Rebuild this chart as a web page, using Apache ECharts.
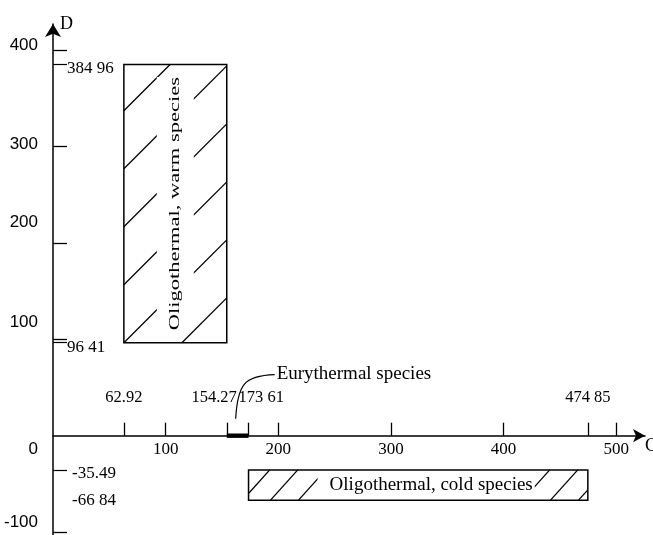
<!DOCTYPE html>
<html><head><meta charset="utf-8">
<script src="https://cdn.jsdelivr.net/npm/echarts@6/dist/echarts.min.js"></script>
<style>html,body{margin:0;padding:0;background:#fff}#c{width:653px;height:535px}</style>
</head><body><div id="c"></div>
<script>
// ---------------- data ----------------
const xTickValues = [62.92, 100, 154.27, 173.61, 200, 300, 400, 474.85, 500];
const xLabelValues = [100, 200, 300, 400, 500];
const xMarkValues = [62.92, 154.27, 173.61, 474.85];
const xMarkTexts = ['62.92', '154.27', '173 61', '474 85'];
const yLabelValues = [-100, 0, 100, 200, 300, 400];
const yTickValues = [-100, 100, 200, 300, 400];
const yMarkValues = [-66.84, -35.49, 96.41, 384.96];
const yMarkTexts = ['-66 84', '-35.49', '96 41', '384 96'];
const yMarkTickValues = [-35.49, 96.41, 384.96];
const zoneNames = ['Oligothermal, warm species', 'Oligothermal, cold species'];
const zoneX0 = [62.92, 173.61];
const zoneX1 = [154.27, 474.85];
const zoneY0 = [96.41, -66.84];
const zoneY1 = [384.96, -35.49];
const euryName = 'Eurythermal species';
const euryRange = [154.27, 173.61];
const xAxisName = 'C';
const yAxisName = 'D';
const xMin = 0, xMax = 525.6, yMin = -103, yMax = 427;

// ---------------- styles ----------------
const SERIF = '"Liberation Serif","Times New Roman",serif';
const SANS = '"Liberation Sans",Arial,sans-serif';
const GRID = {left: 53, right: 8, top: 24, bottom: 0};
const CHART_H = 535;
const yLabelShift = {'400': -5, '300': -2, '200': -21, '100': -17, '0': 14, '-100': -10};
const yMarkShift = {'-66.84': [0, 5], '-35.49': [4, 5], '96.41': [5, 0], '384.96': [4, 0]};
const xMarkStyle = [{align: 'center', dx: 0}, {align: 'right', dx: 10}, {align: 'left', dx: -10}, {align: 'center', dx: 0}];
const zoneStyle = [
  {angle: 45, spacing: 58, phase: 0, rotation: Math.PI / 2, scaleX: 1.5, fontSize: 15, dx: 0, dy: 0, padding: [11, 0, 11, 0]},
  {angle: 48, spacing: 28, phase: -6, rotation: 0, scaleX: 1, fontSize: 19, dx: 8, dy: 0, padding: [8, 2, 8, 12]}
];

function keyOf(v) { return 'k' + String(v).replace('-', 'm').replace('.', 'd'); }
function shiftPad(d) { return d > 0 ? [2 * d, 0, 0, 0] : [0, 0, -2 * d, 0]; }

const yLabelRich = {};
yLabelValues.forEach(v => {
  yLabelRich[keyOf(v)] = {padding: shiftPad(yLabelShift[String(v)] || 0), fontFamily: SANS, fontSize: 17, color: '#000'};
});
const yMarkRich = {};
yMarkValues.forEach(v => {
  const s = yMarkShift[String(v)] || [0, 0];
  const p = shiftPad(s[0]);
  p[3] = s[1];
  yMarkRich[keyOf(v)] = {padding: p, fontFamily: SERIF, fontSize: 17, color: '#000'};
});

// pixel distance of value 0 above the grid bottom (x axis sits on y = 0)
const gridH = CHART_H - GRID.top - GRID.bottom;
const zeroOffset = (0 - yMin) / (yMax - yMin) * gridH;

function renderZone(params, api) {
  const i = params.dataIndex;
  const st = zoneStyle[i];
  const p0 = api.coord([api.value(0), api.value(1)]);
  const p1 = api.coord([api.value(2), api.value(3)]);
  const x = Math.min(p0[0], p1[0]), y = Math.min(p0[1], p1[1]);
  const w = Math.abs(p1[0] - p0[0]), h = Math.abs(p1[1] - p0[1]);
  const children = [{type: 'rect', shape: {x: x, y: y, width: w, height: h},
    style: {fill: '#fff', stroke: null}}];
  const t = Math.tan(st.angle * Math.PI / 180);
  const run = h / t;
  const yb = y + h;
  const kMin = Math.floor(-run / st.spacing) - 1, kMax = Math.ceil(w / st.spacing) + 1;
  for (let k = kMin; k <= kMax; k++) {
    const c = x + st.phase + k * st.spacing;
    const s0 = Math.max(0, (x - c) / run), s1 = Math.min(1, (x + w - c) / run);
    if (s1 - s0 > 0.02) {
      children.push({type: 'line', shape: {
        x1: c + s0 * run, y1: yb - s0 * h, x2: c + s1 * run, y2: yb - s1 * h},
        style: {stroke: '#000', lineWidth: 1.3}});
    }
  }
  children.push({type: 'text', x: x + w / 2 + st.dx, y: y + h / 2 + st.dy,
    rotation: st.rotation, scaleX: st.scaleX,
    style: {text: zoneNames[i], fontFamily: SERIF, fontSize: st.fontSize, fill: '#000',
      align: 'center', verticalAlign: 'middle', backgroundColor: '#fff', padding: st.padding}});
  children.push({type: 'rect', shape: {x: x, y: y, width: w, height: h},
    style: {fill: null, stroke: '#000', lineWidth: 1.5}});
  return {type: 'group', children: children};
}

function renderEury(params, api) {
  const a = api.coord([api.value(0), 0]);
  const b = api.coord([api.value(1), 0]);
  const mx = (a[0] + b[0]) / 2, y0 = a[1];
  return {type: 'group', children: [
    {type: 'rect', shape: {x: a[0], y: y0 - 2.2, width: b[0] - a[0], height: 4.4}, style: {fill: '#000'}},
    {type: 'bezierCurve', shape: {x1: mx - 2, y1: y0 - 17, cpx1: mx, cpy1: y0 - 51, cpx2: mx + 6, cpy2: y0 - 60, x2: mx + 37, y2: y0 - 61},
      style: {stroke: '#000', lineWidth: 1.2, fill: null}},
    {type: 'text', x: mx + 39, y: y0 - 62,
      style: {text: euryName, fontFamily: SERIF, fontSize: 19, fill: '#000', align: 'left', verticalAlign: 'middle'}}
  ]};
}

function renderXMark(params, api) {
  const i = params.dataIndex;
  const p = api.coord([api.value(0), 0]);
  const st = xMarkStyle[i];
  return {type: 'text', x: p[0] + st.dx, y: p[1] - 38,
    style: {text: xMarkTexts[i], fontFamily: SERIF, fontSize: 16.5, fill: '#000', align: st.align, verticalAlign: 'middle'}};
}

const chart = echarts.init(document.getElementById('c'), null, {renderer: 'canvas'});
chart.setOption({
  backgroundColor: '#fff',
  animation: false,
  grid: Object.assign({containLabel: false, outerBoundsMode: 'none'}, GRID),
  xAxis: [{
    type: 'value', min: xMin, max: xMax, position: 'bottom', offset: -zeroOffset,
    name: xAxisName, nameLocation: 'end', nameGap: 0,
    nameTextStyle: {fontFamily: SERIF, fontSize: 18, color: '#000', align: 'left', verticalAlign: 'top', padding: [2, 0, 0, 0]},
    axisLine: {show: true, onZero: false, symbol: ['none', 'arrow'], symbolSize: [10, 12], lineStyle: {color: '#000', width: 1.5}},
    axisTick: {show: true, inside: true, length: 13, customValues: xTickValues, lineStyle: {color: '#000', width: 1.3}},
    axisLabel: {show: true, customValues: xLabelValues, margin: 5, fontFamily: SERIF, fontSize: 17, color: '#000'},
    splitLine: {show: false}
  }],
  yAxis: [{
    type: 'value', min: yMin, max: yMax, position: 'left',
    name: yAxisName, nameLocation: 'end', nameGap: 0,
    nameTextStyle: {fontFamily: SERIF, fontSize: 18, color: '#000', align: 'left', verticalAlign: 'middle', padding: [0, 0, 10, 7]},
    axisLine: {show: true, onZero: false, symbol: ['none', 'arrow'], symbolSize: [12, 13], lineStyle: {color: '#000', width: 1.5}},
    axisTick: {show: true, inside: true, length: 14, customValues: yTickValues, lineStyle: {color: '#000', width: 1.3}},
    axisLabel: {show: true, customValues: yLabelValues, margin: 15,
      formatter: v => '{' + keyOf(v) + '|' + v + '}', rich: yLabelRich},
    splitLine: {show: false}
  }, {
    type: 'value', min: yMin, max: yMax, position: 'left', offset: 0,
    axisLine: {show: false, onZero: false},
    axisTick: {show: true, inside: true, length: 14, customValues: yMarkTickValues, lineStyle: {color: '#000', width: 1.2}},
    axisLabel: {show: true, inside: true, customValues: yMarkValues, margin: 14,
      formatter: v => '{' + keyOf(v) + '|' + yMarkTexts[yMarkValues.indexOf(v)] + '}', rich: yMarkRich},
    splitLine: {show: false}
  }],
  series: [{
    type: 'custom', clip: false, xAxisIndex: 0, yAxisIndex: 0,
    data: zoneNames.map((n, i) => [zoneX0[i], zoneY0[i], zoneX1[i], zoneY1[i]]),
    renderItem: renderZone, silent: true
  }, {
    type: 'custom', clip: false, xAxisIndex: 0, yAxisIndex: 0,
    data: [[euryRange[0], euryRange[1]]],
    renderItem: renderEury, silent: true
  }, {
    type: 'custom', clip: false, xAxisIndex: 0, yAxisIndex: 0,
    data: xMarkValues.map(v => [v, 0]),
    renderItem: renderXMark, silent: true
  }]
});
</script></body></html>
